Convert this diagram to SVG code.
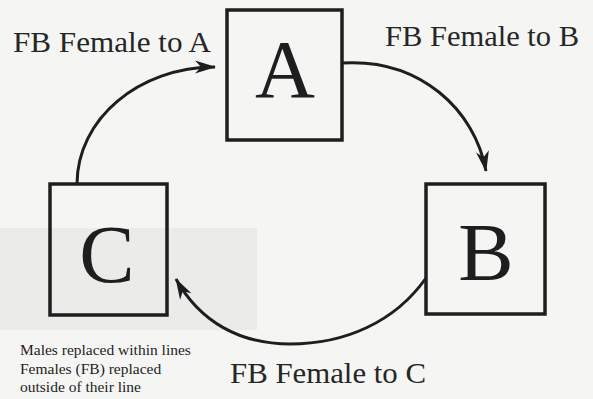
<svg xmlns="http://www.w3.org/2000/svg" width="593" height="399" viewBox="0 0 593 399">
  <style>
    .box { fill: none; stroke: #1e1e1e; stroke-width: 3.5; }
    .big { font-size: 83px; fill: #1e1e1e; text-anchor: middle; }
    .lbl { font-size: 29px; fill: #262626; }
    .note { font-size: 15.5px; fill: #1e1e1e; }
    .conn { fill: none; stroke: #1e1e1e; stroke-width: 3; }
  </style>
  <defs>
    <marker id="head" markerUnits="userSpaceOnUse" markerWidth="24" markerHeight="16" viewBox="-21 -8 24 16" refX="0" refY="0" orient="auto">
      <path d="M1,0 L-20,-6.5 L-14,0 L-20,6.5 Z" fill="#1e1e1e"/>
    </marker>
  </defs>
  <rect x="0" y="0" width="593" height="399" fill="#f5f5f3"/>
  <rect x="0" y="228" width="257" height="102" fill="#ebebe9"/>

  <g font-family="Liberation Serif, DejaVu Serif, Times New Roman, serif">
    <g id="node-A">
      <rect class="box" x="227" y="10" width="115" height="130"/>
      <text class="big" x="285" y="97">A</text>
    </g>
    <g id="node-B">
      <rect class="box" x="426" y="184" width="119" height="130"/>
      <text class="big" x="486" y="280">B</text>
    </g>
    <g id="node-C">
      <rect class="box" x="50" y="184" width="117" height="131"/>
      <text class="big" x="107" y="282">C</text>
    </g>

    <g id="connectors">
      <path class="conn" d="M77,184 C77,119 139,67 215,67" marker-end="url(#head)"/>
      <path class="conn" d="M342,63 C420,58 475,110 486,171" marker-end="url(#head)"/>
      <path class="conn" d="M426,278 C395,322 345,344 290,344 C240,344 200,322 176,279" marker-end="url(#head)"/>
    </g>

    <g id="labels">
      <text class="lbl" x="13" y="52" textLength="198" lengthAdjust="spacingAndGlyphs">FB Female to A</text>
      <text class="lbl" x="385" y="46" textLength="194" lengthAdjust="spacingAndGlyphs">FB Female to B</text>
      <text class="lbl" x="230" y="383" textLength="196" lengthAdjust="spacingAndGlyphs">FB Female to C</text>
      <text class="note" x="20" y="355">Males replaced within lines</text>
      <text class="note" x="20" y="373.5">Females (FB)  replaced</text>
      <text class="note" x="20" y="392">outside of their line</text>
    </g>
  </g>
</svg>
